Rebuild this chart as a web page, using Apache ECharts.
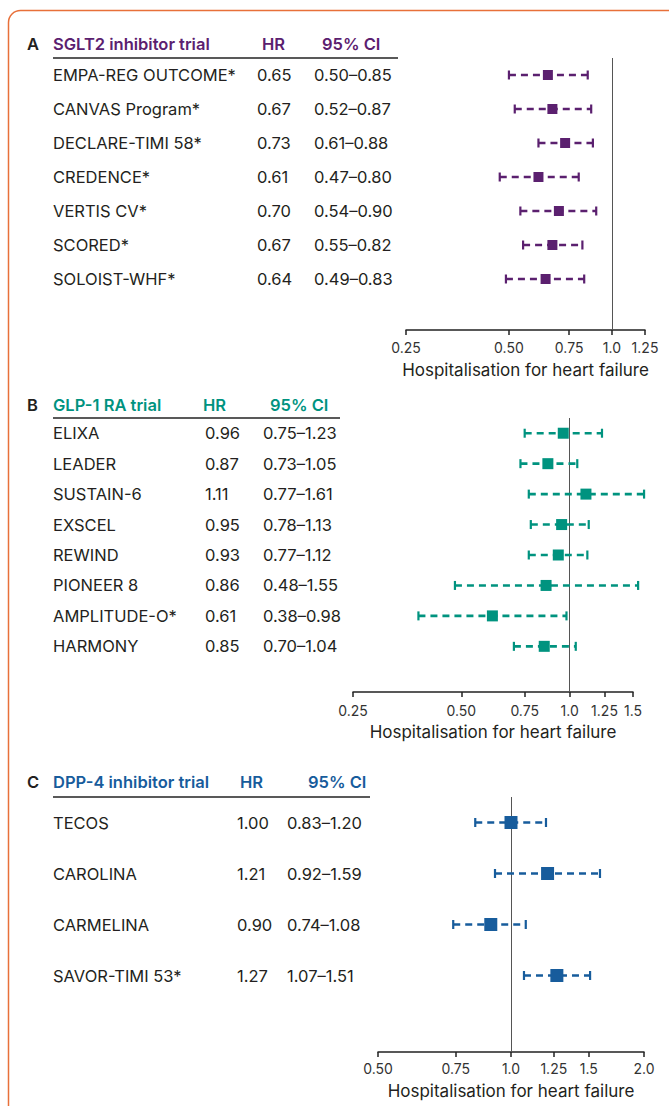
<!DOCTYPE html>
<html><head><meta charset="utf-8">
<script src="https://cdn.jsdelivr.net/npm/echarts@6/dist/echarts.min.js"></script>
<style>html,body{margin:0;padding:0;background:#fff}#c{width:669px;height:1106px}</style>
</head><body><div id="c"></div>
<script>
// ---- Data ----
const sgltTrials = ['EMPA-REG OUTCOME*','CANVAS Program*','DECLARE-TIMI 58*','CREDENCE*','VERTIS CV*','SCORED*','SOLOIST-WHF*'];
const sgltHR  = [0.65,0.67,0.73,0.61,0.70,0.67,0.64];
const sgltLo  = [0.50,0.52,0.61,0.47,0.54,0.55,0.49];
const sgltHi  = [0.85,0.87,0.88,0.80,0.90,0.82,0.83];
const sgltTicks = [0.25,0.5,0.75,1.0,1.25];
const sgltTickLabels = ['0.25','0.50','0.75','1.0','1.25'];

const glpTrials = ['ELIXA','LEADER','SUSTAIN-6','EXSCEL','REWIND','PIONEER 8','AMPLITUDE-O*','HARMONY'];
const glpHR = [0.96,0.87,1.11,0.95,0.93,0.86,0.61,0.85];
const glpLo = [0.75,0.73,0.77,0.78,0.77,0.48,0.38,0.70];
const glpHi = [1.23,1.05,1.61,1.13,1.12,1.55,0.98,1.04];
const glpTicks = [0.25,0.5,0.75,1.0,1.25,1.5];
const glpTickLabels = ['0.25','0.50','0.75','1.0','1.25','1.5'];

const dppTrials = ['TECOS','CAROLINA','CARMELINA','SAVOR-TIMI 53*'];
const dppHR = [1.00,1.21,0.90,1.27];
const dppLo = [0.83,0.92,0.74,1.07];
const dppHi = [1.20,1.59,1.08,1.51];
const dppTicks = [0.5,0.75,1.0,1.25,1.5,2.0];
const dppTickLabels = ['0.50','0.75','1.0','1.25','1.5','2.0'];

// ---- Styles ----
const FONT = 'Inter';
const TXT = '#231f20';
const FS = 16.5;
const panels = [
  {letter:'A', title:'SGLT2 inhibitor trial', color:'#5b206f', trials:sgltTrials, hr:sgltHR, lo:sgltLo, hi:sgltHi,
   ticks:sgltTicks, tickLabels:sgltTickLabels, min:0.25, max:1.25, extra:1,
   top:58, bottom:330, left:406, right:645, nameW:204, hrW:57, headY:44, hrX:262, ciX:322, ulEnd:398,
   labelMargin:10, nameGap:31, sym:10},
  {letter:'B', title:'GLP-1 RA trial', color:'#00937f', trials:glpTrials, hr:glpHR, lo:glpLo, hi:glpHi,
   ticks:glpTicks, tickLabels:glpTickLabels, min:0.25, max:1.5, extra:1,
   top:418, bottom:692, left:353, right:633, nameW:152, hrW:58, headY:405, hrX:203, ciX:270, ulEnd:340,
   labelMargin:11, nameGap:31, sym:11},
  {letter:'C', title:'DPP-4 inhibitor trial', color:'#175c9c', trials:dppTrials, hr:dppHR, lo:dppLo, hi:dppHi,
   ticks:dppTicks, tickLabels:dppTickLabels, min:0.5, max:2.0, extra:1,
   top:797, bottom:1052, left:378, right:644, nameW:184, hrW:50, headY:782, hrX:240, ciX:308, ulEnd:370,
   labelMargin:9, nameGap:30, sym:13}
];

const W = 669, H = 1106;
const grid = [], xAxis = [], yAxis = [], series = [], graphic = [];

graphic.push({type:'rect', shape:{x:8.5,y:10.5,width:720,height:1200,r:12},
  style:{fill:'none', stroke:'#e8703a', lineWidth:1.5}, z:-1});

panels.forEach((p, k) => {
  const cats = p.trials.concat(new Array(p.extra).fill(''));
  grid.push({left:p.left, right:W-p.right, top:p.top, height:p.bottom-p.top, containLabel:false});
  xAxis.push({
    type:'log', gridIndex:k, logBase:2, min:p.min, max:p.max,
    axisLine:{show:true, lineStyle:{color:'#222', width:1.5}},
    axisTick:{show:true, length:5, lineStyle:{color:'#222', width:1.5}, customValues:p.ticks},
    axisLabel:{customValues:p.ticks, margin:p.labelMargin, fontSize:14, color:'#333', fontFamily:FONT,
      formatter:(v)=>{ const i = p.ticks.findIndex(t=>Math.abs(t-v)<1e-6); return i>=0 ? p.tickLabels[i] : ''; }},
    splitLine:{show:false}, minorTick:{show:false},
    name:'Hospitalisation for heart failure', nameLocation:'middle', nameGap:p.nameGap,
    nameTextStyle:{fontSize:17, color:TXT, fontFamily:FONT}
  });
  yAxis.push({
    type:'category', gridIndex:k, data:cats, inverse:true,
    axisLine:{show:false}, axisTick:{show:false}, splitLine:{show:false},
    axisLabel:{
      show:true, interval:0, align:'left', margin:p.left-53,
      formatter:(v, i)=> i < p.trials.length ?
        '{n|'+p.trials[i]+'}{h|'+p.hr[i].toFixed(2)+'}{c|'+p.lo[i].toFixed(2)+'–'+p.hi[i].toFixed(2)+'}' : '',
      rich:{
        n:{width:p.nameW, fontSize:FS, color:TXT, fontFamily:FONT},
        h:{width:p.hrW, fontSize:FS, color:TXT, fontFamily:FONT},
        c:{fontSize:FS, color:TXT, fontFamily:FONT}
      }
    }
  });
  // error bars
  series.push({
    type:'custom', xAxisIndex:k, yAxisIndex:k, z:2,
    data:p.trials.map((t,i)=>[p.lo[i], p.hi[i], i]),
    encode:{x:[0,1], y:2},
    renderItem:(params, api)=>{
      const y = api.value(2);
      const a = api.coord([api.value(0), y]);
      const b = api.coord([api.value(1), y]);
      const st = {stroke:p.color, lineWidth:2.6};
      return {type:'group', children:[
        {type:'line', shape:{x1:a[0], y1:a[1], x2:b[0], y2:b[1]}, style:Object.assign({lineDash:[7,5]}, st)},
        {type:'line', shape:{x1:a[0], y1:a[1]-4.5, x2:a[0], y2:a[1]+4.5}, style:{stroke:p.color, lineWidth:2.2}},
        {type:'line', shape:{x1:b[0], y1:b[1]-4.5, x2:b[0], y2:b[1]+4.5}, style:{stroke:p.color, lineWidth:2.2}}
      ]};
    },
    silent:true
  });
  // points + reference line
  series.push({
    type:'scatter', xAxisIndex:k, yAxisIndex:k, z:3,
    symbol:'rect', symbolSize:p.sym, itemStyle:{color:p.color, opacity:1},
    data:p.trials.map((t,i)=>[p.hr[i], i]),
    markLine:{silent:true, symbol:'none', label:{show:false}, animation:false,
      lineStyle:{color:'#555', width:1, type:'solid'}, data:[{xAxis:1}], z:1},
    silent:true
  });
  // headers
  const hs = {fontSize:FS, fontWeight:600, fill:p.color, fontFamily:FONT, verticalAlign:'middle'};
  graphic.push({type:'text', x:27, y:p.headY, style:{text:p.letter, fontSize:FS, fontWeight:600, fill:TXT, fontFamily:FONT, verticalAlign:'middle'}});
  graphic.push({type:'text', x:53, y:p.headY, style:Object.assign({text:p.title}, hs)});
  graphic.push({type:'text', x:p.hrX, y:p.headY, style:Object.assign({text:'HR'}, hs)});
  graphic.push({type:'text', x:p.ciX, y:p.headY, style:Object.assign({text:'95% CI'}, hs)});
  graphic.push({type:'line', shape:{x1:53, y1:p.top, x2:p.ulEnd, y2:p.top}, style:{stroke:'#222', lineWidth:1.5}});
});

const chart = echarts.init(document.getElementById('c'), null, {renderer:'svg', width:W, height:H});
chart.setOption({animation:false, backgroundColor:'#fff', grid, xAxis, yAxis, series, graphic});
</script></body></html>
